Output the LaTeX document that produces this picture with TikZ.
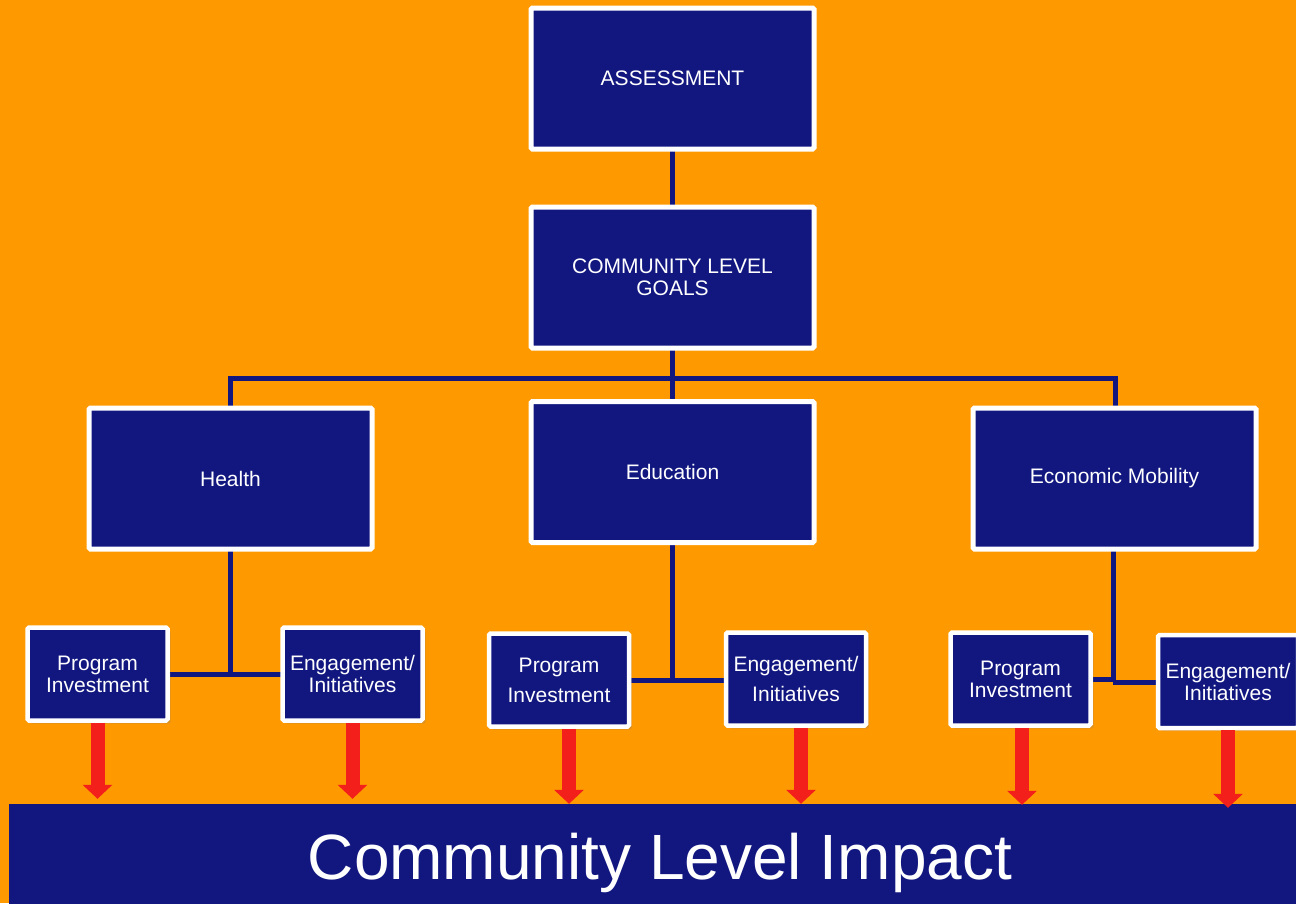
\documentclass[tikz,border=0pt]{standalone}
\usepackage{fontspec}
\setmainfont{Liberation Sans}
\usetikzlibrary{arrows.meta}
\usetikzlibrary{shadows}
\definecolor{bgorange}{HTML}{FF9900}
\definecolor{boxnavy}{HTML}{11177F}
\definecolor{arrowred}{HTML}{F31F1A}

\begin{document}
\begin{tikzpicture}[x=1pt, y=-1pt,
  bigbox/.style={draw=white, line width=5pt, fill=boxnavy, text=white, rounded corners=1.5pt,
    minimum width=283pt, minimum height=141pt, align=center, font=\fontsize{21}{22}\selectfont},
  smallbox/.style={draw=white, line width=4.5pt, fill=boxnavy, text=white, rounded corners=1.5pt,
    minimum width=140pt, minimum height=93pt, align=center, font=\fontsize{21}{22}\selectfont,
    drop shadow={shadow xshift=3pt, shadow yshift=-3pt, opacity=0.25}},
  link/.style={draw=boxnavy, line width=5pt},
  impactarrow/.style={draw=arrowred, line width=14pt, -{Triangle[width=29pt, length=14pt]}}]

\fill[bgorange] (0,0) rectangle (1296,903);
\useasboundingbox (0,0) rectangle (1296,903);

\coordinate (bus) at (672,378);

\draw[link] (672,79) -- (672,472);
\draw[link] (230,478) |- (bus) -| (1115,478);
\draw[link] (230,478) -- (230,674);
\draw[link] (97,674) -- (352,674);
\draw[link] (672,472) -- (672,680);
\draw[link] (559,680) -- (796,680);
\draw[link] (1113,478) -- (1113,681);
\draw[link] (1020,679) -- (1113,679);
\draw[link] (1113,682) -- (1228,682);

\node[bigbox] (assess) at (672.5,78.5) {ASSESSMENT};
\node[bigbox] (goals) at (672.5,277.5) {COMMUNITY LEVEL\\GOALS};
\node[bigbox] (health) at (230.5,478.5) {Health};
\node[bigbox] (educ) at (672.5,472) {Education};
\node[bigbox] (econ) at (1114.5,478.5) {Economic Mobility};

\node[smallbox] (hpi) at (97.5,674) {Program\\Investment};
\node[smallbox] (heng) at (352.5,674) {Engagement/\\Initiatives};
\node[smallbox, font=\fontsize{21}{30}\selectfont] (epi) at (559,680) {Program\\Investment};
\node[smallbox, font=\fontsize{21}{30}\selectfont] (eeng) at (796,679) {Engagement/\\Initiatives};
\node[smallbox] (mpi) at (1020.5,679) {Program\\Investment};
\node[smallbox] (meng) at (1228,681.5) {Engagement/\\Initiatives};

\node[fill=boxnavy, minimum width=1303pt, minimum height=106pt] (impact) at (660.5,857) {};
\node[anchor=base, text=white, font=\fontsize{64}{70}\selectfont, inner sep=0pt]
  (impactlabel) at (660,879) {Community Level Impact};

\draw[impactarrow] (hpi.south) -- ([yshift=5pt]hpi.south |- impact.north);
\draw[impactarrow] (heng.south) -- ([yshift=5pt]heng.south |- impact.north);
\draw[impactarrow] ([xshift=10pt]epi.south) -- ([xshift=10pt, yshift=0pt]epi.south |- impact.north);
\draw[impactarrow] ([xshift=5pt]eeng.south) -- ([xshift=5pt, yshift=0pt]eeng.south |- impact.north);
\draw[impactarrow] ([xshift=1.5pt]mpi.south) -- ([xshift=1.5pt, yshift=-1pt]mpi.south |- impact.north);
\draw[impactarrow] (meng.south) -- ([yshift=-4pt]meng.south |- impact.north);

\end{tikzpicture}
\end{document}
